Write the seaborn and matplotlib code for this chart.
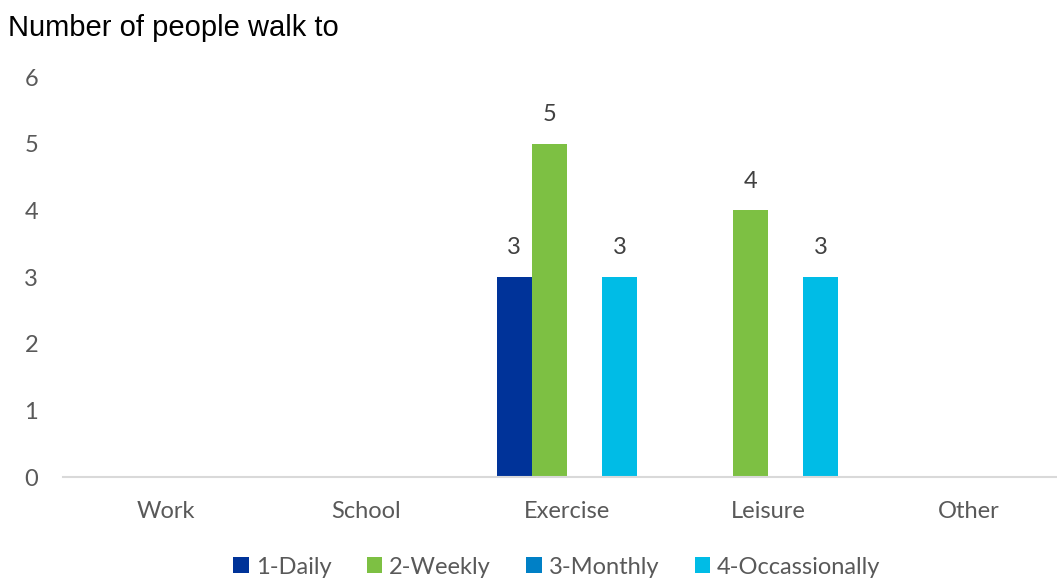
import matplotlib
matplotlib.use('Agg')
import matplotlib.pyplot as plt
import seaborn as sns
import pandas as pd

# data
purposes = ['Work', 'School', 'Exercise', 'Leisure', 'Other']
daily = [0, 0, 3, 0, 0]
weekly = [0, 0, 5, 4, 0]
monthly = [0, 0, 0, 0, 0]
occasionally = [0, 0, 3, 3, 0]
series_names = ['1-Daily', '2-Weekly', '3-Monthly', '4-Occassionally']
colors = ['#003399', '#7DC043', '#0080C6', '#00BCE6']

rows = []
for name, vals in zip(series_names, [daily, weekly, monthly, occasionally]):
    for p, v in zip(purposes, vals):
        rows.append({'Purpose': p, 'Frequency': name, 'People': v})
df = pd.DataFrame(rows)

sns.set_style('white')
plt.rcParams['font.family'] = ['Lato', 'DejaVu Sans']

fig = plt.figure(figsize=(10.57, 5.8), dpi=100)
ax = fig.add_axes([63 / 1057, 103 / 580, 994 / 1057, 400 / 580])

sns.barplot(data=df, x='Purpose', y='People', hue='Frequency', order=purposes,
            hue_order=series_names, palette=colors, width=0.7, linewidth=0,
            saturation=1, ax=ax)

ax.set_ylim(0, 6)
ax.set_xlim(-0.51, 4.44)
ax.set_yticks(range(7))
ax.set_xlabel('')
ax.set_ylabel('')
for s in ['top', 'right', 'left']:
    ax.spines[s].set_visible(False)
ax.spines['bottom'].set_color('#D9D9D9')
ax.spines['bottom'].set_linewidth(1.5)
ax.tick_params(axis='both', length=0, labelsize=17, colors='#595959')
ax.tick_params(axis='x', pad=17)
ax.tick_params(axis='y', pad=18)

# value labels, only on non-zero bars
for bar in ax.patches:
    h = bar.get_height()
    if h > 0:
        ax.text(bar.get_x() + bar.get_width() / 2, h + 0.28, f'{int(h)}',
                ha='center', va='bottom', fontsize=17, color='#404040')

fig.text(8 / 1057, 1 - 28 / 580, 'Number of people walk to', fontsize=21,
         family=['Liberation Sans', 'DejaVu Sans'], color='black', va='center')

ax.legend(loc='center', bbox_to_anchor=(0.5 - 3 / 994, -0.225), ncol=4,
          frameon=False, fontsize=17, handlelength=0.65, handleheight=0.65,
          handletextpad=0.3, columnspacing=1.5, labelcolor='#595959')

fig.savefig('out.png', dpi=100)
